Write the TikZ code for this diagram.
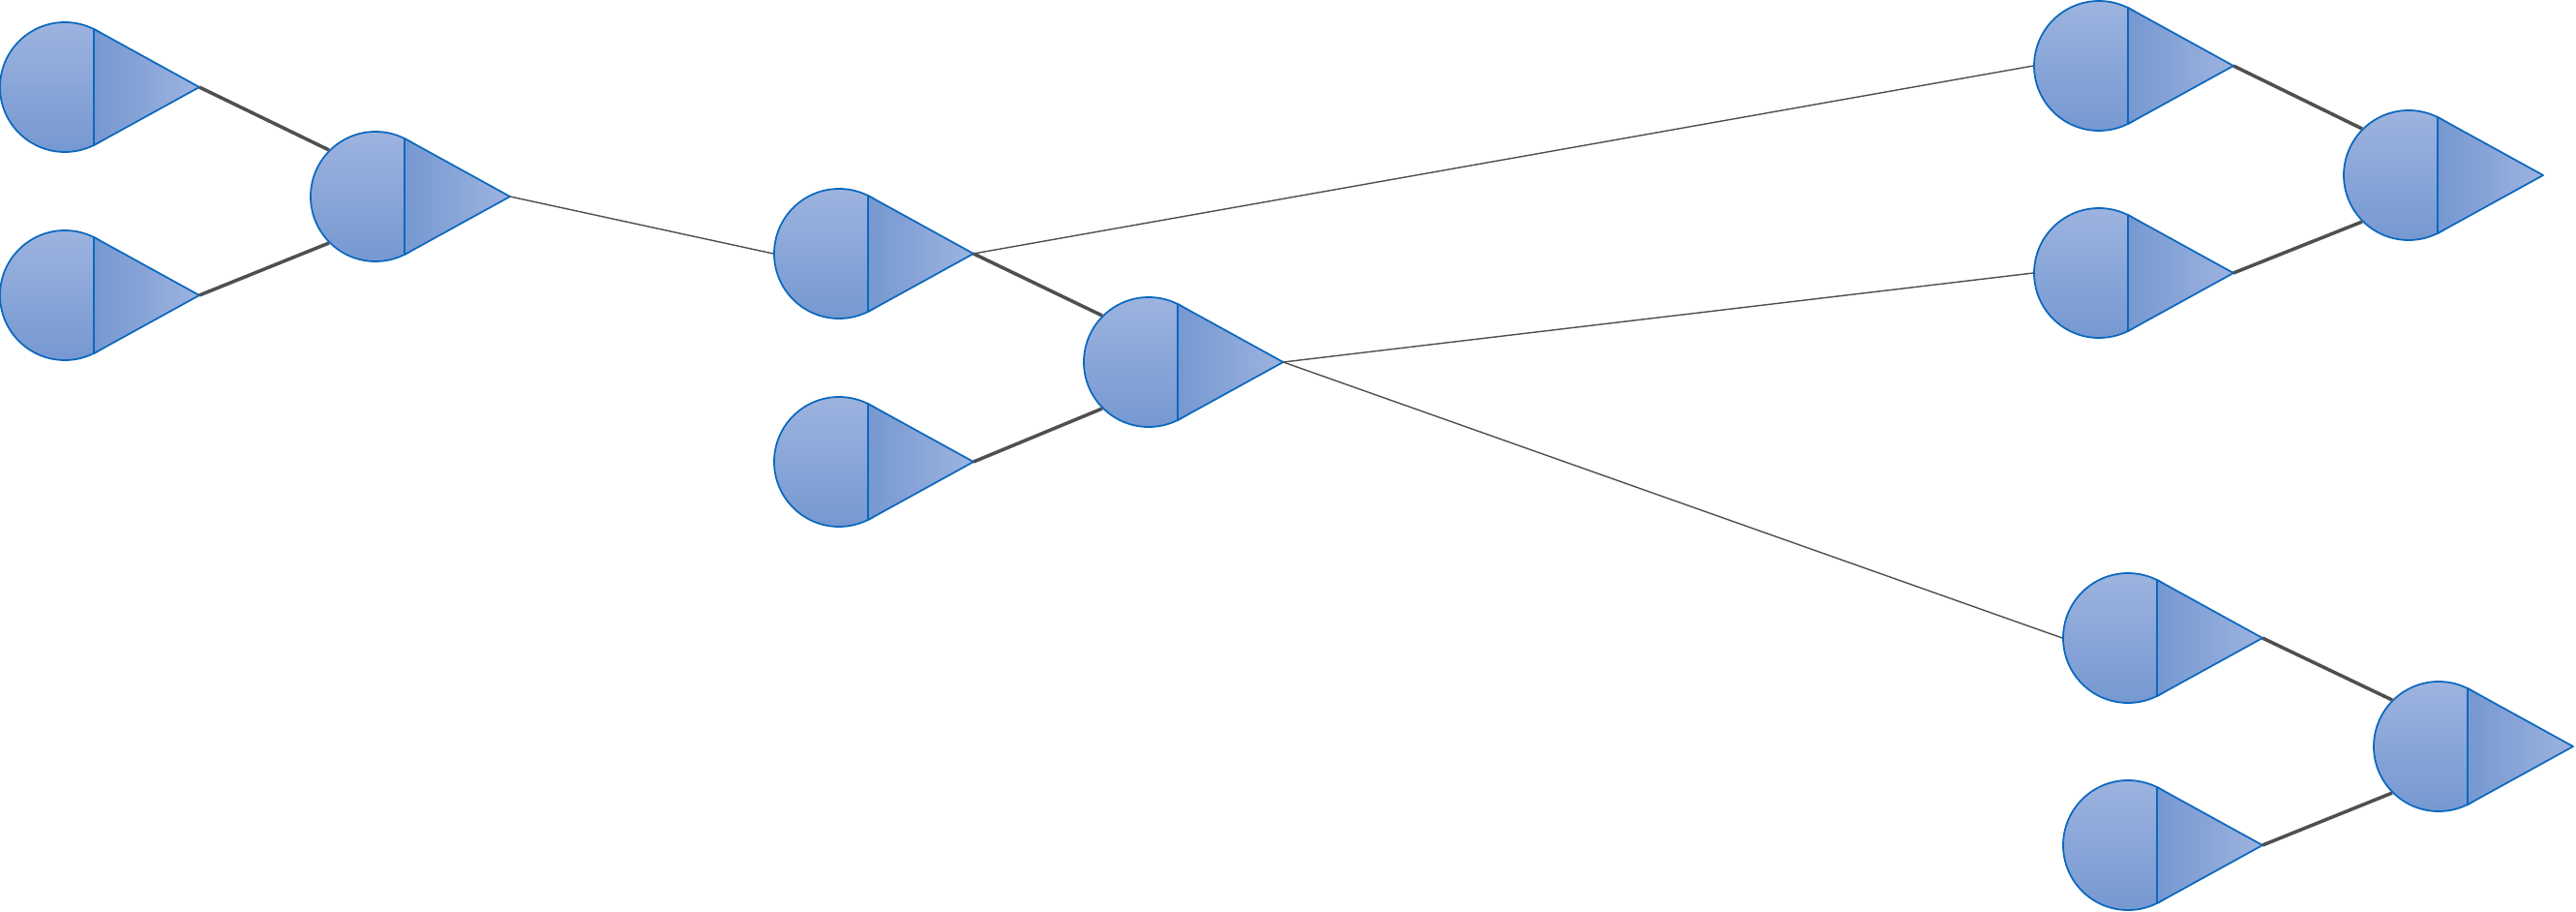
\documentclass[tikz,border=0pt]{standalone}
\usepackage{xcolor}
\usepackage{tikz}
\definecolor{gateblue}{HTML}{0B68BE}
\definecolor{gatelight}{HTML}{9DB3DF}
\definecolor{gatedark}{HTML}{7698D1}
\definecolor{wiregray}{HTML}{4F4F4F}

\begin{document}
\begin{tikzpicture}[
  gatebody/.style={circle,draw=gateblue,line width=0.5pt,minimum size=1.34cm,inner sep=0pt,top color=gatelight,bottom color=gatedark},
  gatetip/.style={draw=gateblue,line width=0.5pt,left color=gatedark,right color=gatelight,line join=round},
  mainwire/.style={draw=wiregray,line width=1pt},
  sidewire/.style={draw=wiregray,line width=0.4pt}
]
\useasboundingbox (0,0) rectangle (26.62,-9.41);
\foreach \name/\x/\y in {ina/0.67/-0.90,inb/0.67/-3.05,joina/3.88/-2.03,
  inc/8.67/-2.62,ind/8.67/-4.77,joinb/11.87/-3.74,
  outa/21.69/-0.68,outb/21.69/-2.82,joinc/24.89/-1.81,
  outc/21.99/-6.59,outd/21.99/-8.73,joind/25.20/-7.71} {
  \node[gatebody] (\name) at (\x,\y) {};
  \coordinate (\name-out) at ([xshift=1.39cm]\name.center);
  \draw[gatetip] ([shift={(0.30,0.60)}]\name.center) -- (\name-out) -- ([shift={(0.30,-0.60)}]\name.center) -- cycle;
}

\draw[mainwire] (ina-out) -- (joina.north west);
\draw[mainwire] (inb-out) -- (joina.south west);
\draw[mainwire] (inc-out) -- (joinb.north west);
\draw[mainwire] (ind-out) -- (joinb.south west);
\draw[mainwire] (outa-out) -- (joinc.north west);
\draw[mainwire] (outb-out) -- (joinc.south west);
\draw[mainwire] (outc-out) -- (joind.north west);
\draw[mainwire] (outd-out) -- (joind.south west);

\draw[sidewire] (joina-out) -- (inc.west);
\draw[sidewire] (inc-out) -- (outa.west);
\draw[sidewire] (joinb-out) -- (outb.west);
\draw[sidewire] (joinb-out) -- (outc.west);
\end{tikzpicture}
\end{document}
